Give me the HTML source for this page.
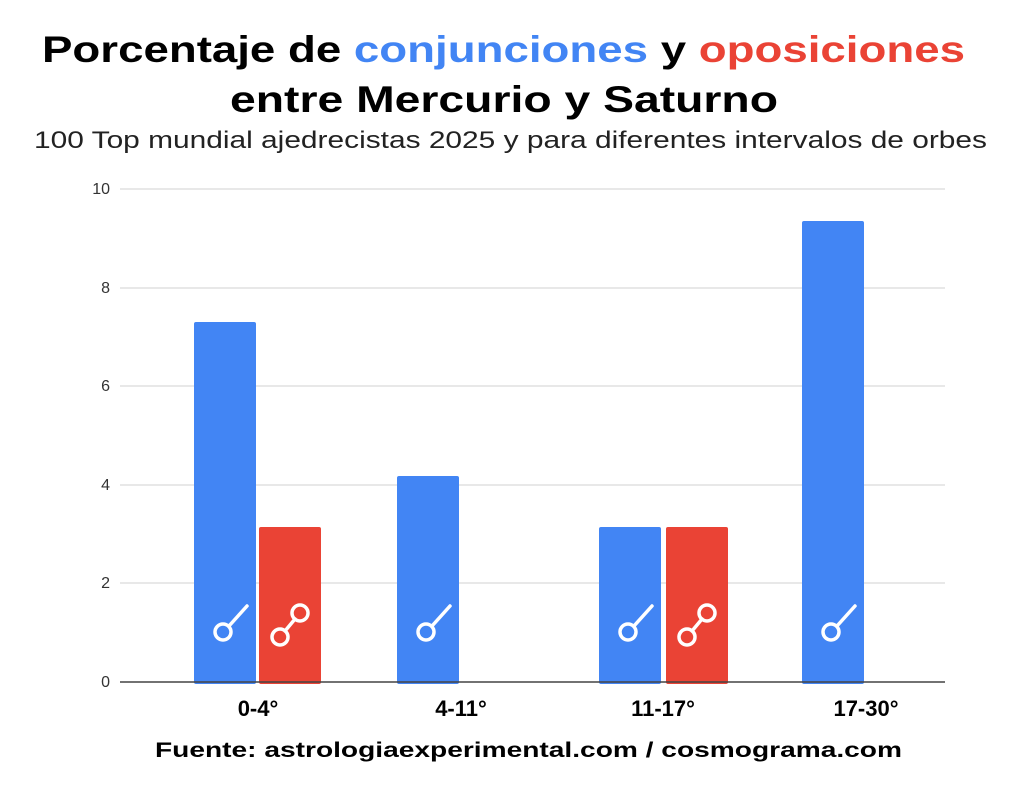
<!DOCTYPE html>
<html><head><meta charset="utf-8"><style>
html,body{margin:0;padding:0;background:#fff;}
svg{display:block;font-family:"Liberation Sans",sans-serif;}
</style></head><body>
<svg width="1024" height="796" viewBox="0 0 1024 796">
<defs><radialGradient id="g" cx="0.5" cy="0" r="0.5"><stop offset="0" stop-color="#e6e6e6"/><stop offset="1" stop-color="#fff"/></radialGradient></defs>
<ellipse cx="520" cy="0" rx="360" ry="16" fill="url(#g)"/>
<text x="42" y="62" font-size="37" font-weight="bold" textLength="923" lengthAdjust="spacingAndGlyphs">Porcentaje de <tspan fill="#4285f4">conjunciones</tspan> y <tspan fill="#ea4335">oposiciones</tspan></text>
<text x="230" y="112" font-size="37" font-weight="bold" textLength="548" lengthAdjust="spacingAndGlyphs">entre Mercurio y Saturno</text>
<text x="34" y="148" font-size="24" fill="#222" textLength="953" lengthAdjust="spacingAndGlyphs">100 Top mundial ajedrecistas 2025 y para diferentes intervalos de orbes</text>
<g stroke="#d9d9d9" stroke-width="1.3">
<line x1="120" x2="945" y1="189" y2="189"/><line x1="120" x2="945" y1="288" y2="288"/><line x1="120" x2="945" y1="386" y2="386"/><line x1="120" x2="945" y1="485" y2="485"/><line x1="120" x2="945" y1="583" y2="583"/>
</g>
<g font-size="16" fill="#333" text-anchor="end">
<text x="110" y="194">10</text><text x="110" y="293">8</text><text x="110" y="391">6</text><text x="110" y="490">4</text><text x="110" y="588">2</text><text x="110" y="687">0</text>
</g>
<g fill="#4285f4">
<rect x="194" y="322" width="62" height="362" rx="2"/>
<rect x="397" y="476" width="62" height="208" rx="2"/>
<rect x="599" y="527" width="62" height="157" rx="2"/>
<rect x="802" y="221" width="62" height="463" rx="2"/>
</g>
<g fill="#ea4335">
<rect x="259" y="527" width="62" height="157" rx="2"/>
<rect x="666" y="527" width="62" height="157" rx="2"/>
</g>
<line x1="120" x2="945" y1="682" y2="682" stroke="#444" stroke-width="1.5"/>
<g stroke="#fff" stroke-width="3.5" fill="none" stroke-linecap="round">
<g id="c"><circle cx="223" cy="632" r="8"/><line x1="229" y1="626" x2="247" y2="606"/></g>
<use href="#c" x="203"/><use href="#c" x="405"/><use href="#c" x="608"/>
<g id="o"><circle cx="280" cy="637" r="8"/><circle cx="300" cy="613" r="8"/><line x1="285" y1="631" x2="295" y2="619"/></g>
<use href="#o" x="407"/>
</g>
<g font-size="22" font-weight="bold" text-anchor="middle">
<text x="258" y="716">0-4°</text><text x="461" y="716">4-11°</text><text x="663" y="716">11-17°</text><text x="866" y="716">17-30°</text>
</g>
<text x="155" y="757" font-size="21" font-weight="bold" textLength="747" lengthAdjust="spacingAndGlyphs">Fuente: astrologiaexperimental.com / cosmograma.com</text>
</svg>
</body></html>
